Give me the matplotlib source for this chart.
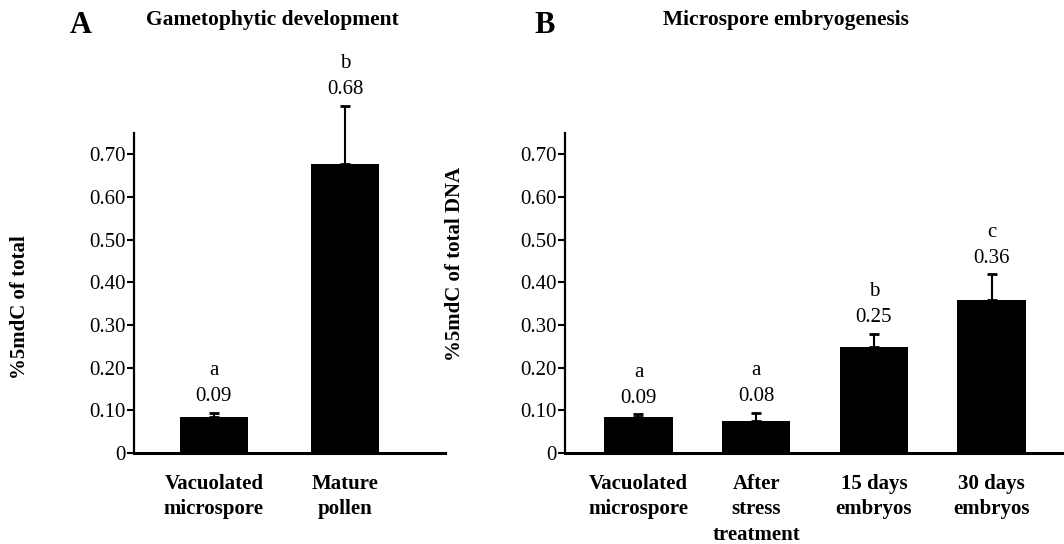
import matplotlib
matplotlib.use("Agg")
import matplotlib.pyplot as plt

plt.rcParams['font.family'] = ['Liberation Serif', 'DejaVu Serif']

# panel A: gametophytic development
cats_a = ["Vacuolated\nmicrospore", "Mature\npollen"]
vals_a = [0.085, 0.677]
errs_a = [0.009, 0.136]
text_a = ["0.09", "0.68"]
letters_a = ["a", "b"]

# panel B: microspore embryogenesis
cats_b = ["Vacuolated\nmicrospore", "After\nstress\ntreatment", "15 days\nembryos", "30 days\nembryos"]
vals_b = [0.085, 0.076, 0.248, 0.358]
errs_b = [0.006, 0.018, 0.031, 0.061]
text_b = ["0.09", "0.08", "0.25", "0.36"]
letters_b = ["a", "a", "b", "c"]

yticks = [0, 0.1, 0.2, 0.3, 0.4, 0.5, 0.6, 0.7]
ytick_labels = ["0", "0.10", "0.20", "0.30", "0.40", "0.50", "0.60", "0.70"]


def draw_panel(ax, cats, vals, errs, texts, letters, width, xlim, ylabel):
    x = list(range(len(cats)))
    ax.bar(x, vals, width=width, color='black', zorder=2)
    ax.errorbar(x, vals, yerr=[[0] * len(errs), errs], fmt='none', ecolor='black',
                elinewidth=1.5, capsize=3.5, capthick=2, clip_on=False, zorder=3)
    for xi, v, e, t, l in zip(x, vals, errs, texts, letters):
        ax.annotate(t, (xi, v + e), xytext=(0, 16), textcoords='offset pixels',
                    ha='center', va='center', fontsize=15, annotation_clip=False)
        ax.annotate(l, (xi, v + e), xytext=(0, 42), textcoords='offset pixels',
                    ha='center', va='center', fontsize=15, annotation_clip=False)
    ax.set_xlim(*xlim)
    ax.set_ylim(0, 0.75)
    ax.set_yticks(yticks)
    ax.set_yticklabels(ytick_labels, fontsize=15)
    ax.set_xticks(x)
    ax.set_xticklabels(cats, fontsize=15, fontweight='bold', linespacing=1.36)
    ax.tick_params(axis='x', length=0, pad=15)
    ax.tick_params(axis='y', length=5, width=1.5, pad=1, direction='out')
    for s in ['top', 'right']:
        ax.spines[s].set_visible(False)
    ax.spines['left'].set_linewidth(1.6)
    ax.spines['bottom'].set_linewidth(2.2)
    ax.set_ylabel(ylabel, fontsize=15, fontweight='bold')


fig = plt.figure(figsize=(10.64, 5.44), dpi=100)

ax_a = fig.add_axes([0.126, 0.167, 0.292, 0.589])
draw_panel(ax_a, cats_a, vals_a, errs_a, text_a, letters_a, 0.517, (-0.608, 1.757),
           "%5mdC of total")
ax_a.yaxis.set_label_coords(-0.335, 0.455)

ax_b = fig.add_axes([0.531, 0.167, 0.469, 0.589])
draw_panel(ax_b, cats_b, vals_b, errs_b, text_b, letters_b, 0.58, (-0.624, 3.615),
           "%5mdC of total DNA")
ax_b.yaxis.set_label_coords(-0.2, 0.59)

fig.text(0.076, 0.953, "A", fontsize=22, fontweight='bold', ha='center', va='center')
fig.text(0.256, 0.963, "Gametophytic development", fontsize=15.5, fontweight='bold',
         ha='center', va='center')
fig.text(0.512, 0.953, "B", fontsize=22, fontweight='bold', ha='center', va='center')
fig.text(0.739, 0.963, "Microspore embryogenesis", fontsize=15.5, fontweight='bold',
         ha='center', va='center')

fig.savefig("out.png", dpi=100)
